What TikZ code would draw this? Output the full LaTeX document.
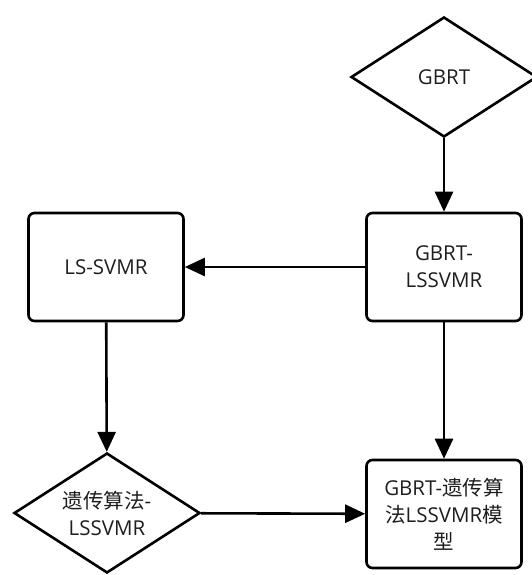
\documentclass[tikz,border=0pt]{standalone}
\usepackage{fontspec}
\setmainfont{Open Sans}
\newfontfamily\cjk{Noto Sans CJK SC}
\usetikzlibrary{shapes.geometric,arrows.meta}
\definecolor{txt}{HTML}{1E1E1E}
\begin{document}
\begin{tikzpicture}[x=1pt,y=-1pt,
  lbl/.style={text=txt,align=center,font=\fontsize{20.5}{27}\selectfont},
  box/.style={lbl,draw,line width=2.6pt,rounded corners=6pt,minimum width=155pt,minimum height=108pt,inner sep=0pt},
  dia/.style={lbl,draw,diamond,line width=2.6pt,minimum width=186pt,minimum height=120pt,inner sep=0pt,aspect=1.55},
  arr/.style={line width=2.6pt,-{Triangle[length=20pt,width=18pt]}}]
\useasboundingbox (0,0) rectangle (531,575);
\node[dia] (gbrt) at (444,77) {GBRT};
\node[box] (gl) at (444,267) {GBRT-\\LSSVMR};
\node[box] (ls) at (106,267) {LS-SVMR};
\node[dia] (ga) at (107,513) {{\cjk 遗传算法}-\\LSSVMR};
\node[box] (model) at (444,514) {GBRT-{\cjk 遗传算}\\{\cjk 法}LSSVMR{\cjk 模}\\{\cjk 型}};
\draw[arr] (gbrt) -- (gl);
\draw[arr] (gl) -- (ls);
\draw[arr] (ls) -- (ga);
\draw[arr] (gl) -- (model);
\draw[arr] (ga) -- (model);
\end{tikzpicture}
\end{document}
